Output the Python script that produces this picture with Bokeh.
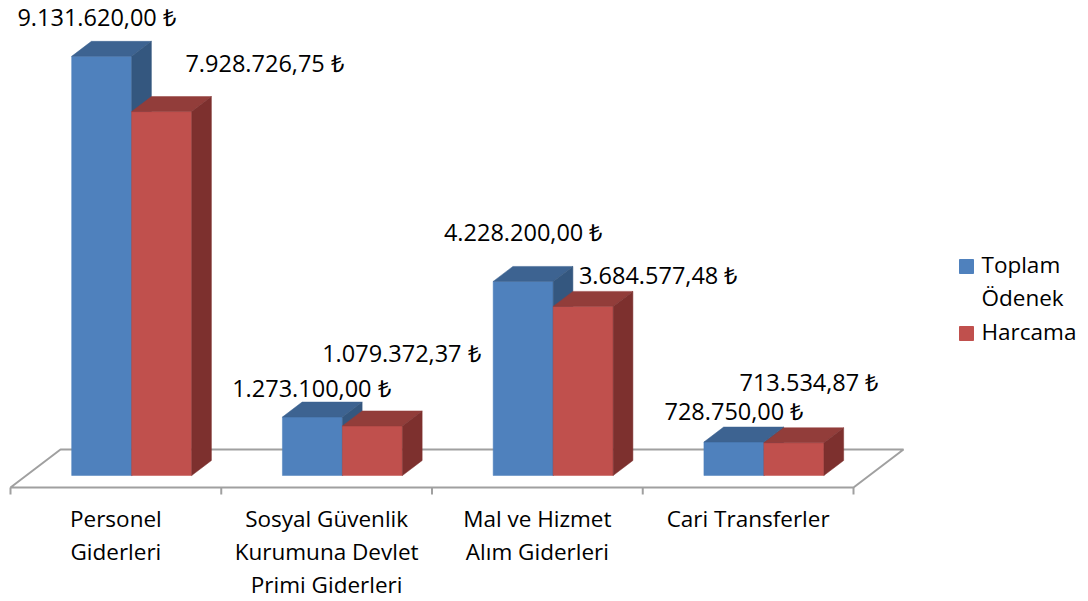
from bokeh.plotting import figure
from bokeh.models import Range1d, ColumnDataSource
from bokeh.embed import file_html
from bokeh.resources import INLINE
from bokeh.core.properties import value

# ---------------- data ----------------
categories = ["Personel\nGiderleri",
              "Sosyal Güvenlik\nKurumuna Devlet\nPrimi Giderleri",
              "Mal ve Hizmet\nAlım Giderleri",
              "Cari Transferler"]
series_names = ["Toplam\nÖdenek", "Harcama"]
toplam_odenek = [9131620.00, 1273100.00, 4228200.00, 728750.00]
harcama = [7928726.75, 1079372.37, 3684577.48, 713534.87]

# ---------------- styles / layout ----------------
FRONT = ["#4F81BD", "#C0504D"]
TOP = ["#3D6391", "#923D3A"]
SIDE = ["#34577F", "#7D302E"]
FLOOR_LINE = "#A0A0A0"
FONT = "Open Sans"
FS_VAL = "23.5px"
FS_CAT = "22.5px"

ORG = 0                  # page offset of the canvas
W, H = 1080, 601
CAT_PX = 210.75          # pixels per category slot
X0_PX = 10.0 - ORG       # canvas x of category 0 on front edge
Y0_PX = 487.0 - ORG      # canvas y (from top) of value 0 on front edge
PXY = 45.9e-6            # pixels per value unit
DEPTH_X = 50.0 / CAT_PX  # floor depth (x) in category units
DEPTH_Y = 38.0 / PXY     # floor depth (y) in value units
BAR_W = 60.0 / CAT_PX
D0, D1 = 12.0 / 38.0, 27.0 / 38.0
TXT_DY = -9              # baseline correction for text glyphs

# label offsets (pixels) relative to bar's top-front centre
lab_dx = [[-5, 103], [-1, 29], [0, 75], [0, 15]]
lab_dy = [[-30, -40], [-20, -64], [-40, -22], [-22, -52]]


def proj(c, v, d):
    return c + d * DEPTH_X, v + d * DEPTH_Y


def sx(X):
    return (X - ORG - X0_PX) / CAT_PX


def sy(Y):
    return (Y0_PX - (Y - ORG)) / PXY


def fmt(v):
    s = f"{v:,.2f}"
    s = s.replace(",", "_").replace(".", ",").replace("_", ".")
    return s + " ₺"


p = figure(width=W, height=H, output_backend="svg", toolbar_location=None,
           x_range=Range1d(-X0_PX / CAT_PX, (W - X0_PX) / CAT_PX),
           y_range=Range1d(-(H - Y0_PX) / PXY, Y0_PX / PXY),
           min_border=0, min_border_left=0, min_border_right=0,
           min_border_top=0, min_border_bottom=0)
p.axis.visible = False
p.grid.visible = False
p.outline_line_color = None
p.background_fill_color = "white"
p.border_fill_color = "white"

n = len(categories)

# floor
fx, fy = [], []
for (c, d) in [(0, 0), (n, 0), (n, 1), (0, 1)]:
    x, y = proj(c, 0, d)
    fx.append(x)
    fy.append(y)
p.patch(fx, fy, fill_color="white", line_color=FLOOR_LINE, line_width=2)

# ticks
tick_len = 7 / PXY
p.segment(x0=list(range(n + 1)), y0=[0] * (n + 1), x1=list(range(n + 1)),
          y1=[-tick_len] * (n + 1), line_color=FLOOR_LINE, line_width=2)

# bars
xs, ys, cols = [], [], []
lx, ly, lt, ldx, ldy = [], [], [], [], []
series = [toplam_odenek, harcama]
for i in range(n):
    for s in range(2):
        v = series[s][i]
        x0 = i + 0.5 - BAR_W + s * BAR_W
        x1 = x0 + BAR_W
        faces = [
            ([(x0, 0, D0), (x1, 0, D0), (x1, v, D0), (x0, v, D0)], FRONT[s]),
            ([(x0, v, D0), (x1, v, D0), (x1, v, D1), (x0, v, D1)], TOP[s]),
            ([(x1, 0, D0), (x1, 0, D1), (x1, v, D1), (x1, v, D0)], SIDE[s]),
        ]
        for pts, col in faces:
            px_, py_ = zip(*[proj(*pt) for pt in pts])
            xs.append(list(px_))
            ys.append(list(py_))
            cols.append(col)
        cx, cy = proj((x0 + x1) / 2, v, D0)
        lx.append(cx)
        ly.append(cy)
        lt.append(fmt(v))
        ldx.append(lab_dx[i][s])
        ldy.append(lab_dy[i][s] + TXT_DY)

p.patches(xs=xs, ys=ys, fill_color=cols, line_color=cols, line_width=0.5)

lsrc = ColumnDataSource(dict(x=lx, y=ly, text=lt, dx=ldx, dy=ldy))
p.text(x="x", y="y", text="text", x_offset="dx", y_offset="dy", source=lsrc,
       text_font=value(FONT), text_font_size=FS_VAL, text_color="#000000",
       text_align="center", text_baseline="alphabetic")

# category labels
cx_, cy_, ct_, coff = [], [], [], []
for i, cat in enumerate(categories):
    for k, line in enumerate(cat.split("\n")):
        cx_.append(i + 0.5)
        cy_.append(0)
        ct_.append(line)
        coff.append(40 + k * 33 + TXT_DY)
csrc = ColumnDataSource(dict(x=cx_, y=cy_, text=ct_, dy=coff))
p.text(x="x", y="y", text="text", y_offset="dy", source=csrc,
       text_font=value(FONT), text_font_size=FS_CAT, text_color="#000000",
       text_align="center", text_baseline="alphabetic")

# legend
p.scatter(x=[sx(966), sx(966)], y=[sy(266), sy(333)], marker="square", size=14,
          fill_color=FRONT, line_color=FRONT)
gx, gy, gt = [], [], []
base = [273, 340]
for s, name in enumerate(series_names):
    for k, line in enumerate(name.split("\n")):
        gx.append(sx(981))
        gy.append(sy(base[s] + k * 33 + TXT_DY))
        gt.append(line)
p.text(x=gx, y=gy, text=gt, text_font=value(FONT), text_font_size=FS_CAT,
       text_color="#000000", text_align="left", text_baseline="alphabetic")

open("out.html", "w").write(file_html(p, INLINE))
